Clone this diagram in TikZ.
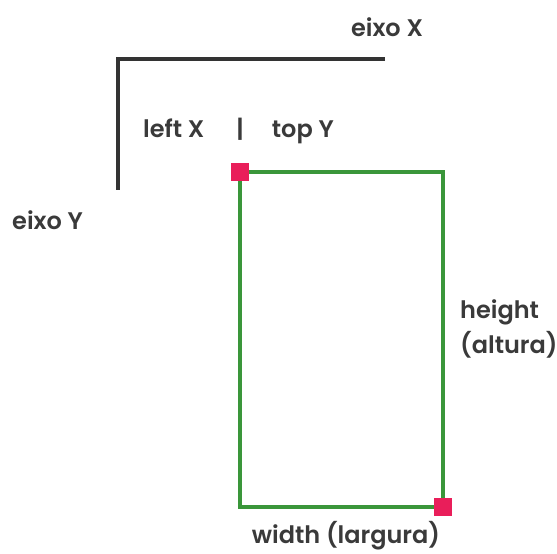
\documentclass[tikz,border=0pt]{standalone}
\usepackage{fontspec}
\setmainfont{Poppins}[UprightFont=* SemiBold]
\usepackage{tikz}
\usetikzlibrary{calc,positioning}
\definecolor{axisgray}{RGB}{51,51,51}
\definecolor{textgray}{RGB}{58,58,58}
\definecolor{boxgreen}{RGB}{58,150,58}
\definecolor{markpink}{RGB}{233,30,90}
\tikzset{
  axis line/.style={draw=axisgray,line width=4pt,line cap=butt},
  box edge/.style={draw=boxgreen,line width=4pt,line join=miter},
  corner mark/.style={rectangle,fill=markpink,minimum size=18pt,
    inner sep=0pt},
  axis label/.style={font=\fontsize{24}{29}\selectfont,text=textgray,
    inner sep=0pt}
}
\begin{document}
\begin{tikzpicture}[x=1pt,y=-1pt]
    \useasboundingbox (0,0) rectangle (557,554);
    \coordinate (origin) at (118,59);
    \coordinate (xend) at (385,59);
    \coordinate (yend) at (118,190);
    \coordinate (boxtl) at (240,172);
    \coordinate (boxbr) at (443,507);
    \draw[axis line] (xend) -- (origin) -- (yend);
    \draw[box edge] (boxtl) rectangle (boxbr);
    \foreach \c in {tl,br}
      \node[corner mark] (mark\c) at (box\c) {};
    \node[axis label,anchor=base] (eixox) at (387,36) {eixo X};
    \node[axis label,anchor=base west] (eixoy) at (12,229) {eixo Y};
    \node[axis label,anchor=base west] (leftx) at (143,137) {left X};
    \node[axis label,anchor=base] (sep) at (240,137) {|};
    \node[axis label,anchor=base east] (topy) at (334,137) {top Y};
    \node[axis label,anchor=base west] (height) at (460,318) {height};
    \node[axis label,anchor=base west] (altura) at (460,353) {(altura)};
    \node[axis label,anchor=base] (width) at (346,543) {width (largura)};
\end{tikzpicture}
\end{document}
